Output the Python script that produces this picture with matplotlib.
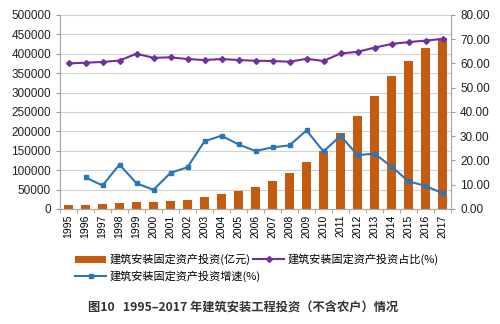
import matplotlib
matplotlib.use('Agg')
import matplotlib.pyplot as plt
import numpy as np

plt.rcParams['font.family'] = ['Liberation Sans', 'Noto Sans CJK SC', 'DejaVu Sans']

years = ['1995', '1996', '1997', '1998', '1999', '2000', '2001', '2002', '2003', '2004', '2005', '2006',
         '2007', '2008', '2009', '2010', '2011', '2012', '2013', '2014', '2015', '2016', '2017']
# 建筑安装固定资产投资 (亿元)
invest = [9500, 11000, 13000, 14600, 18000, 18500, 20700, 23300, 30000, 38800, 46500, 57800,
          73300, 92200, 120700, 149000, 195700, 238800, 292000, 342000, 380000, 414700, 441000]
# 占比 (%)
share = [60.0, 60.3, 60.6, 61.2, 64.0, 62.3, 62.5, 61.8, 61.4, 61.8, 61.4, 61.1,
         61.0, 60.7, 61.9, 61.0, 64.1, 64.8, 66.5, 68.0, 68.8, 69.4, 70.1]
# 增速 (%), 1996 起
growth = [np.nan, 13.0, 9.7, 18.3, 10.6, 7.9, 14.9, 17.2, 27.9, 30.2, 26.6, 23.9,
          25.4, 26.2, 32.4, 23.7, 30.2, 22.2, 22.8, 17.5, 11.4, 9.5, 6.5]

bar_color = '#C55A11'
share_color = '#7030A0'
growth_color = '#2E75B6'

fig = plt.figure(figsize=(5, 3.24), dpi=100)
ax = fig.add_axes([0.12, 0.355, 0.782, 0.599])
ax2 = ax.twinx()

x = np.arange(len(years))
bars = ax.bar(x, invest, width=0.5, color=bar_color, zorder=2)
l1, = ax2.plot(x, share, color=share_color, marker='D', markersize=3, linewidth=1.5, zorder=3)
l2, = ax2.plot(x, growth, color=growth_color, marker='s', markersize=3.5, linewidth=1.5, zorder=3)

ax.set_xlim(-0.5, len(years) - 0.5)
ax.set_ylim(0, 500000)
ax.set_yticks(np.arange(0, 500001, 50000))
ax.set_yticklabels([str(v) for v in range(0, 500001, 50000)])
ax2.set_ylim(0, 80)
ax2.set_yticks(np.arange(0, 81, 10))
ax2.set_yticklabels(['%.2f' % v for v in range(0, 81, 10)])

ax.set_xticks(x)
ax.set_xticklabels(years, rotation=90)
ax.set_xticks(np.arange(-0.5, len(years), 1), minor=True)
ax.tick_params(axis='x', which='major', length=0, labelsize=7.5, pad=4)
ax.tick_params(axis='x', which='minor', length=3, color='#999999')
ax.tick_params(axis='y', labelsize=8.5, length=3, color='#999999', colors='#222222')
ax2.tick_params(axis='y', labelsize=8.5, length=3, color='#999999', colors='#222222')

ax.yaxis.grid(True, color='#d0d0d0', linewidth=0.8, zorder=0)
ax.set_axisbelow(True)
for a in (ax, ax2):
    a.spines['top'].set_visible(False)
    for s in ('left', 'right', 'bottom'):
        a.spines[s].set_color('#aaaaaa')

fig.legend([bars, l2, l1],
           ['建筑安装固定资产投资(亿元)', '建筑安装固定资产投资增速(%)', '建筑安装固定资产投资占比(%)'],
           ncol=2, loc='upper left', bbox_to_anchor=(0.135, 0.24), frameon=False,
           prop={'family': ['Noto Sans CJK SC'], 'size': 8}, handlelength=2.8,
           columnspacing=-0.7, labelspacing=0.5, handletextpad=0.3, borderpad=0.2)

fig.text(0.487, 0.05, '图10   1995–2017 年建筑安装工程投资（不含农户）情况', ha='center', va='center',
         fontsize=8.8, fontweight='bold', family=['Noto Sans CJK SC'], color='#333333')

fig.savefig('out.png', dpi=100)
